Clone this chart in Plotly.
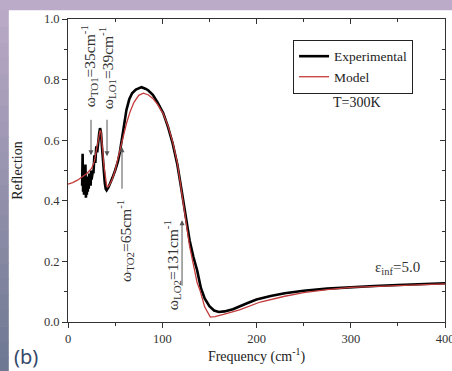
import plotly.graph_objects as go

# Measured far-infrared reflection spectrum (T = 300 K)
exp_freq = [15.0, 15.5, 16.0, 16.5, 17.0, 17.5, 18.0, 18.5, 19.0, 19.5, 20.0, 20.5,
            21.0, 21.5, 22.0, 22.5, 23.0, 23.5, 24.0, 24.5, 25.0, 25.5, 26.0, 26.5,
            27.0, 27.5, 28.0, 29.0, 30.0, 31.0, 32.0, 33.0, 34.0, 35.0, 36.0, 37.0,
            38.0, 39.0, 40.0, 41.0, 43.0, 45.0, 47.0, 50.0, 53.0, 55.0, 57.0, 60.0,
            62.0, 65.0, 68.0, 72.0, 75.0, 78.0, 82.0, 85.0, 90.0, 95.0, 101.0, 106.0,
            111.0, 116.0, 120.5, 125.0, 129.0, 133.0, 137.0, 141.0, 145.0, 150.0,
            155.0, 160.0, 166.0, 175.0, 182.0, 190.0, 200.0, 215.0, 230.0, 250.0,
            275.0, 300.0, 325.0, 350.0, 375.0, 400.0]
exp_refl = [0.45, 0.555, 0.43, 0.50, 0.42, 0.47, 0.43, 0.52, 0.41, 0.46, 0.42, 0.48,
            0.43, 0.47, 0.44, 0.49, 0.45, 0.47, 0.45, 0.50, 0.47, 0.49, 0.48, 0.50,
            0.49, 0.53, 0.55, 0.525, 0.58, 0.56, 0.60, 0.62, 0.64, 0.625, 0.58, 0.53,
            0.49, 0.46, 0.44, 0.435, 0.445, 0.458, 0.475, 0.50, 0.53, 0.56, 0.60, 0.655,
            0.70, 0.735, 0.755, 0.767, 0.772, 0.775, 0.77, 0.765, 0.75, 0.725, 0.69, 0.645,
            0.59, 0.52, 0.435, 0.35, 0.27, 0.215, 0.171, 0.112, 0.078, 0.052,
            0.038, 0.033, 0.035, 0.042, 0.052, 0.062, 0.074, 0.086, 0.095, 0.103,
            0.110, 0.115, 0.119, 0.122, 0.125, 0.128]

# Oscillator-model fit
model_freq = [0.0, 5.0, 10.0, 15.0, 20.0, 25.0, 28.0, 30.0, 32.0, 34.0, 35.0, 36.0,
              37.0, 38.0, 39.0, 40.0, 41.0, 42.0, 44.0, 47.0, 50.0, 53.0, 56.0, 59.0,
              62.0, 66.0, 70.0, 75.0, 80.0, 85.0, 90.0, 95.0, 101.0, 106.0, 111.0,
              116.0, 120.0, 125.0, 129.0, 133.0, 137.0, 140.0, 145.0, 151.0, 156.0,
              165.0, 182.0, 204.0, 230.0, 250.0, 275.0, 300.0, 350.0, 400.0]
model_refl = [0.455, 0.46, 0.468, 0.478, 0.49, 0.507, 0.53, 0.565, 0.60, 0.632, 0.628, 0.60,
              0.56, 0.52, 0.49, 0.465, 0.45, 0.445, 0.452, 0.472, 0.50, 0.54, 0.58, 0.62,
              0.655, 0.695, 0.725, 0.748, 0.755, 0.75, 0.738, 0.718, 0.688, 0.648, 0.595,
              0.525, 0.44, 0.33, 0.25, 0.19, 0.13, 0.105, 0.05, 0.016, 0.018,
              0.025, 0.040, 0.066, 0.085, 0.097, 0.107, 0.114, 0.120, 0.126]

x_ticks = [0, 100, 200, 300, 400]
y_ticks = [0.0, 0.2, 0.4, 0.6, 0.8, 1.0]

# Phonon mode markers: label, label position, arrow tip, arrow tail offset (px)
mode_labels = ["ω<sub>TO1</sub>=35cm<sup>-1</sup>", "ω<sub>LO1</sub>=39cm<sup>-1</sup>",
               "ω<sub>TO2</sub>=65cm<sup>-1</sup>", "ω<sub>LO2</sub>=131cm<sup>-1</sup>"]
label_x = [22.0, 42.2, 60.6, 110.5]
label_y = [0.843, 0.837, 0.268, 0.188]
arrow_x = [24.4, 41.4, 57.3, 121.0]
arrow_y = [0.55, 0.547, 0.577, 0.336]
arrow_tail = [-37, -38, 43, 67]

SERIF = "Liberation Serif"
AX = "#333333"

fig = go.Figure()
fig.add_trace(go.Scatter(x=exp_freq, y=exp_refl, mode="lines", name="Experimental",
                         line=dict(color="black", width=2.6)))
fig.add_trace(go.Scatter(x=model_freq, y=model_refl, mode="lines", name="Model",
                         line=dict(color="#c23b3b", width=1.3)))
# empty trace so the mirrored top/right axes are drawn
fig.add_trace(go.Scatter(x=[], y=[], xaxis="x2", yaxis="y2", showlegend=False))

axis_common = dict(showline=True, linecolor=AX, linewidth=1, showgrid=False,
                   zeroline=False, ticklen=5, tickwidth=1, tickcolor=AX,
                   ticklabeloverflow="allow",
                   tickfont=dict(family=SERIF, size=12.5, color=AX))

fig.update_layout(
    width=452, height=371,
    margin=dict(l=68, r=7, t=19, b=49, autoexpand=False),
    paper_bgcolor="white", plot_bgcolor="white",
    showlegend=True,
    legend=dict(x=0.597, y=0.931, xanchor="left", yanchor="top",
                bgcolor="white", bordercolor="#222", borderwidth=1,
                font=dict(family=SERIF, size=13.5, color="#222"),
                tracegroupgap=0, itemwidth=30),
    xaxis=dict(range=[0, 400], tickvals=x_ticks, ticks="outside", automargin=False,
               minor=dict(dtick=50, ticklen=3, ticks="outside", tickcolor=AX),
               title=dict(text="Frequency (cm<sup>-1</sup>)", standoff=4,
                          font=dict(family=SERIF, size=14, color="#222")),
               **axis_common),
    yaxis=dict(range=[0, 1.0], tickvals=y_ticks, tickformat=".1f", ticks="outside",
               automargin=False,
               minor=dict(dtick=0.1, ticklen=3, ticks="outside", tickcolor=AX),
               title=dict(text="Reflection", standoff=17,
                          font=dict(family=SERIF, size=14, color="#222")),
               **axis_common),
    xaxis2=dict(range=[0, 400], overlaying="x", side="top", anchor="y2",
                tickvals=x_ticks, ticks="inside", showticklabels=False,
                minor=dict(dtick=50, ticklen=3, ticks="inside", tickcolor=AX),
                **axis_common),
    yaxis2=dict(range=[0, 1.0], overlaying="y", side="right", anchor="x2",
                tickvals=y_ticks, ticks="inside", showticklabels=False,
                minor=dict(dtick=0.1, ticklen=3, ticks="inside", tickcolor=AX),
                **axis_common),
)

# slide frame: lavender strip along the top, gradient strip down the left side
shapes = [dict(type="rect", xref="paper", yref="paper", x0=-0.19, x1=1.03,
               y0=1.029, y1=1.08, fillcolor="#bcabc8", line=dict(width=0), layer="below")]
n_steps = 24
top_rgb, bot_rgb = (188, 171, 200), (110, 120, 146)
y_top, y_bot = 1.08, -0.17
for i in range(n_steps):
    f = i / (n_steps - 1)
    c = tuple(round(a + (b - a) * f) for a, b in zip(top_rgb, bot_rgb))
    ya = y_top - (y_top - y_bot) * i / n_steps
    yb = y_top - (y_top - y_bot) * (i + 1) / n_steps
    shapes.append(dict(type="rect", xref="paper", yref="paper", x0=-0.19, x1=-0.157,
                       y0=yb - 0.002, y1=ya, fillcolor="rgb(%d,%d,%d)" % c,
                       line=dict(width=0), layer="below"))
fig.update_layout(shapes=shapes)

for txt, lx, ly in zip(mode_labels, label_x, label_y):
    fig.add_annotation(x=lx, y=ly, text=txt, textangle=-90, showarrow=False,
                       xanchor="center", yanchor="middle",
                       font=dict(family=SERIF, size=15.5, color="#333"))
for axx, ayy, tail in zip(arrow_x, arrow_y, arrow_tail):
    fig.add_annotation(x=axx, y=ayy, text="", showarrow=True, ax=0, ay=tail,
                       arrowhead=2, arrowsize=1, arrowwidth=1, arrowcolor="#555")

fig.add_annotation(x=306.6, y=0.724, text="T=300K", showarrow=False,
                   font=dict(family=SERIF, size=14, color="#222"))
fig.add_annotation(x=350, y=0.178, text="ε<sub>inf</sub>=5.0", showarrow=False,
                   font=dict(family=SERIF, size=15, color="#333"))
fig.add_annotation(xref="paper", yref="paper", x=-0.148, y=-0.115, xanchor="left",
                   yanchor="middle", text="(b)", showarrow=False,
                   font=dict(family="Noto Sans", size=20, color="#34496b"))

fig.write_html("out.html")
